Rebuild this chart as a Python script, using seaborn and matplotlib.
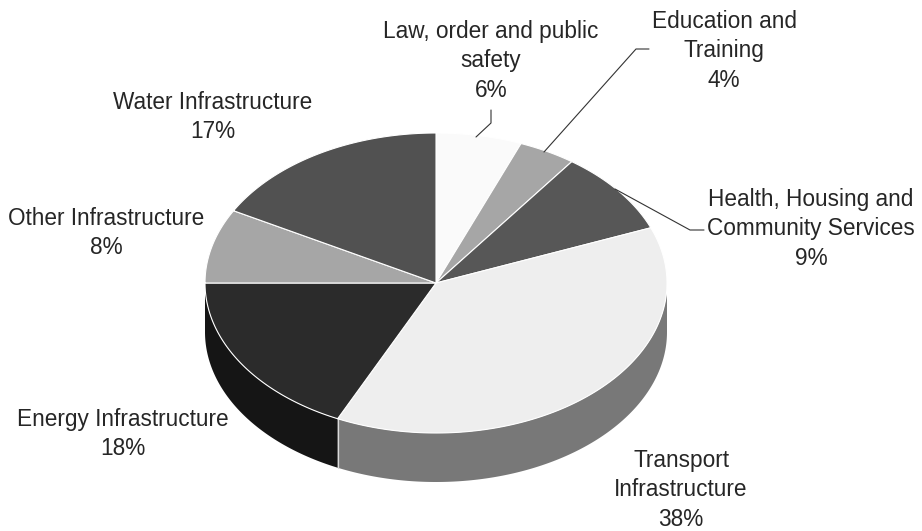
import numpy as np
import matplotlib
matplotlib.use("Agg")
import matplotlib.pyplot as plt
import seaborn as sns

sectors = ["Law, order and public\nsafety", "Education and\nTraining",
           "Health, Housing and\nCommunity Services", "Transport\nInfrastructure",
           "Energy Infrastructure", "Other Infrastructure", "Water Infrastructure"]
shares = [6, 4, 9, 38, 18, 8, 17]
top_colors = ["#fafafa", "#a6a6a6", "#575757", "#eeeeee", "#2b2b2b", "#a6a6a6", "#515151"]
side_colors = ["#b0b0b0", "#666666", "#333333", "#787878", "#151515", "#666666", "#303030"]

sns.set_theme(style="white", font="Liberation Sans")

W, H = 922, 531
fig = plt.figure(figsize=(W / 100, H / 100), dpi=100)
ax = fig.add_axes([0, 0, 1, 1])

# One data unit is one pixel, so the disc can be placed on the page directly.
cx, cy, rx, ry, depth = 436, 283, 231, 150, 49


def ellipse_point(clock_deg):
    t = np.radians(clock_deg)
    return cx + rx * np.sin(t), cy - ry * np.cos(t)


edges = np.cumsum([0] + shares) / sum(shares) * 360

# Rim of the disc: only the part facing the viewer (90 to 270 degrees clockwise from north).
for start, stop, side in zip(edges[:-1], edges[1:], side_colors):
    lo, hi = max(start, 90), min(stop, 270)
    if lo >= hi:
        continue
    t = np.linspace(lo, hi, 160)
    x, y = ellipse_point(t)
    ax.fill(np.r_[x, x[::-1]], np.r_[y, y[::-1] + depth], color=side, lw=0, zorder=1)
    # Thin light seam where two rim segments meet.
    if start > 90:
        ax.plot([x[0], x[0]], [y[0], y[0] + depth], color="#d9d9d9", lw=0.9, zorder=1.5)

# Top face of the disc.
for start, stop, top in zip(edges[:-1], edges[1:], top_colors):
    t = np.linspace(start, stop, 200)
    x, y = ellipse_point(t)
    ax.fill(np.r_[cx, x], np.r_[cy, y], facecolor=top, edgecolor="white", lw=0.8,
            joinstyle="round", zorder=2)

# Leader lines for the small slices.
leader = dict(color="#333333", lw=0.8, zorder=3)
ax.plot([476, 491, 491], [137, 123, 110], **leader)
ax.plot([544, 636, 649], [152, 49, 49], **leader)
ax.plot([615, 690, 704], [189, 230, 230], **leader)

labels = [(491, 61), (724, 51), (811, 229), (681, 490),
          (123, 434), (106, 233), (213, 117)]
for name, share, (lx, ly) in zip(sectors, shares, labels):
    ax.text(lx, ly, f"{name}\n{share}%", ha="center", va="center",
            fontsize=16.3, color="#262626", linespacing=1.37, zorder=4)

ax.set_xlim(0, W)
ax.set_ylim(H, 0)
ax.axis("off")
fig.savefig("out.png", dpi=100, facecolor="white")
